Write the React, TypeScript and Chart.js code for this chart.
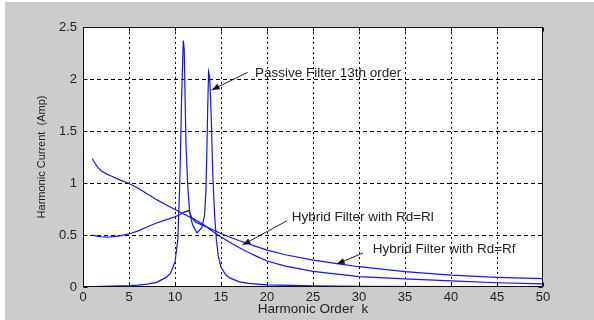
import React, { useEffect, useRef } from 'react';
import { Chart, registerables } from 'chart.js';

Chart.register(...registerables);

// Passive filter (13th order) harmonic current
const passiveK = [1, 2, 3, 4, 5, 6, 7, 8, 9, 9.5, 10, 10.3, 10.5, 10.6, 10.7, 10.8, 10.9, 11.0, 11.1, 11.2, 11.4, 11.6, 11.9, 12.4, 12.9, 13.2, 13.35, 13.45, 13.55, 13.65, 13.75, 13.85, 13.95, 14.1, 14.3, 14.5, 14.7, 15, 15.5, 16, 17, 18, 20, 25, 30, 40, 50];
const passiveI = [0.005, 0.006, 0.008, 0.01, 0.013, 0.018, 0.028, 0.045, 0.09, 0.13, 0.24, 0.45, 0.95, 1.3, 1.75, 2.07, 2.37, 2.29, 1.8, 1.35, 0.95, 0.72, 0.6, 0.52, 0.57, 0.68, 0.9, 1.25, 1.7, 2.07, 2.03, 1.85, 1.6, 1.1, 0.7, 0.45, 0.3, 0.19, 0.12, 0.085, 0.05, 0.035, 0.02, 0.01, 0.006, 0.004, 0.003];

// Hybrid filter with Rd = Rl
const rlK = [1, 1.3, 1.6, 2, 2.5, 3, 4, 5, 6, 7, 8, 9, 10, 11, 12, 13, 14, 15, 16, 17, 18, 19, 20, 22, 25, 30, 35, 40, 45, 50];
const rlI = [1.235, 1.19, 1.15, 1.115, 1.09, 1.07, 1.03, 0.995, 0.95, 0.895, 0.84, 0.79, 0.745, 0.7, 0.655, 0.605, 0.54, 0.48, 0.428, 0.378, 0.332, 0.29, 0.25, 0.2, 0.15, 0.1, 0.078, 0.058, 0.041, 0.03];

// Hybrid filter with Rd = Rf
const rfK = [1, 1.5, 2, 2.5, 3, 4, 5, 6, 7, 8, 9, 10, 10.5, 11, 11.5, 11.8, 12.2, 13, 14, 15, 16, 17, 18, 20, 22, 25, 28, 30, 35, 40, 45, 50];
const rfI = [0.5, 0.49, 0.483, 0.48, 0.482, 0.492, 0.51, 0.54, 0.58, 0.615, 0.645, 0.676, 0.695, 0.72, 0.735, 0.67, 0.625, 0.595, 0.555, 0.515, 0.478, 0.445, 0.415, 0.355, 0.31, 0.258, 0.22, 0.195, 0.148, 0.115, 0.093, 0.08];

const xTicks = [0, 5, 10, 15, 20, 25, 30, 35, 40, 45, 50];
const yTicks = [0, 0.5, 1, 1.5, 2, 2.5];
const yTickLabels = ['0', '0.5', '1', '1.5', '2', '2.5'];

const xTitle = 'Harmonic Order  k';
const yTitle = 'Harmonic Current  (Amp)';

// annotations: text, text anchor (data coords), arrow start, arrow tip (data coords)
const noteTexts = ['Passive Filter 13th order', 'Hybrid Filter with Rd=Rl', 'Hybrid Filter with Rd=Rf'];
const noteX = [18.7, 22.68, 31.49];
const noteY = [2.058, 0.668, 0.365];
const arrowFromX = [17.9, 22.13, 30.43];
const arrowFromY = [2.064, 0.635, 0.327];
const arrowToX = [13.98, 17.34, 27.58];
const arrowToY = [1.894, 0.404, 0.221];

const FONT = '"Liberation Sans", Arial, Helvetica, sans-serif';
const LINE = 'rgb(20,20,255)';

const toPts = (k: number[], v: number[]) => k.map((x, i) => ({ x, y: v[i] }));

const decor = {
  id: 'decor',
  beforeDraw(chart: any) {
    const { ctx, width, height, chartArea: a } = chart;
    ctx.save();
    ctx.fillStyle = '#ffffff';
    ctx.fillRect(0, 0, width, height);
    ctx.fillStyle = '#cccccc';
    ctx.fillRect(5, 2, width - 5, height - 2);
    ctx.fillStyle = '#ffffff';
    ctx.fillRect(a.left, a.top, a.right - a.left, a.bottom - a.top);
    ctx.restore();
  },
  beforeDatasetsDraw(chart: any) {
    const { ctx, chartArea: a, scales } = chart;
    const xs = scales.x, ys = scales.y;
    ctx.save();
    ctx.strokeStyle = '#000';
    ctx.lineWidth = 1;
    ctx.setLineDash([2, 3]);
    xTicks.forEach((v) => {
      if (v === xTicks[0] || v === xTicks[xTicks.length - 1]) return;
      const px = Math.round(xs.getPixelForValue(v)) + 0.5;
      ctx.beginPath();
      ctx.moveTo(px, a.top);
      ctx.lineTo(px, a.bottom);
      ctx.stroke();
    });
    ctx.setLineDash([4, 3]);
    yTicks.forEach((v) => {
      if (v === yTicks[0] || v === yTicks[yTicks.length - 1]) return;
      const py = Math.round(ys.getPixelForValue(v)) + 0.5;
      ctx.beginPath();
      ctx.moveTo(a.left, py);
      ctx.lineTo(a.right, py);
      ctx.stroke();
    });
    ctx.restore();
  },
  afterDatasetsDraw(chart: any) {
    const { ctx, chartArea: a, scales } = chart;
    const xs = scales.x, ys = scales.y;
    ctx.save();
    ctx.strokeStyle = '#111';
    ctx.lineWidth = 1;
    ctx.setLineDash([]);
    const L = Math.round(a.left) + 0.5, R = Math.round(a.right) - 0.5;
    const T = Math.round(a.top) + 0.5, B = Math.round(a.bottom) - 0.5;
    ctx.strokeRect(L, T, R - L, B - T);
    const tl = 4;
    ctx.beginPath();
    xTicks.forEach((v) => {
      const px = Math.round(xs.getPixelForValue(v)) + 0.5;
      ctx.moveTo(px, B); ctx.lineTo(px, B - tl);
      ctx.moveTo(px, T); ctx.lineTo(px, T + tl);
    });
    yTicks.forEach((v) => {
      const py = Math.round(ys.getPixelForValue(v)) + 0.5;
      ctx.moveTo(L, py); ctx.lineTo(L + tl, py);
      ctx.moveTo(R, py); ctx.lineTo(R - tl, py);
    });
    ctx.stroke();

    // annotations
    ctx.font = `13.5px ${FONT}`;
    ctx.fillStyle = '#222';
    ctx.textBaseline = 'middle';
    ctx.textAlign = 'left';
    noteTexts.forEach((t, i) => {
      ctx.fillStyle = '#222';
      ctx.fillText(t, xs.getPixelForValue(noteX[i]), ys.getPixelForValue(noteY[i]));
      const x0 = xs.getPixelForValue(arrowFromX[i]);
      const y0 = ys.getPixelForValue(arrowFromY[i]);
      const x1 = xs.getPixelForValue(arrowToX[i]);
      const y1 = ys.getPixelForValue(arrowToY[i]);
      ctx.strokeStyle = '#222';
      ctx.beginPath();
      ctx.moveTo(x0, y0);
      ctx.lineTo(x1, y1);
      ctx.stroke();
      const ang = Math.atan2(y1 - y0, x1 - x0);
      const hl = 8, hw = 3;
      const bx = x1 - hl * Math.cos(ang), by = y1 - hl * Math.sin(ang);
      ctx.beginPath();
      ctx.moveTo(x1, y1);
      ctx.lineTo(bx + hw * Math.sin(ang), by - hw * Math.cos(ang));
      ctx.lineTo(bx - hw * Math.sin(ang), by + hw * Math.cos(ang));
      ctx.closePath();
      ctx.fillStyle = '#111';
      ctx.fill();
    });
    ctx.restore();
  },
};

export default function App() {
  const ref = useRef<HTMLCanvasElement | null>(null);
  useEffect(() => {
    if (!ref.current) return;
    const ds = (k: number[], v: number[]) => ({
      data: toPts(k, v),
      borderColor: LINE,
      borderWidth: 1.2,
      pointRadius: 0,
      tension: 0,
      fill: false,
    });
    const chart = new Chart(ref.current, {
      type: 'line',
      data: {
        datasets: [ds(passiveK, passiveI), ds(rlK, rlI), ds(rfK, rfI)],
      },
      options: {
        animation: false,
        responsive: false,
        devicePixelRatio: 1,
        layout: { padding: { left: 0, top: 27, right: 51, bottom: 0 } },
        plugins: { legend: { display: false }, tooltip: { enabled: false } },
        scales: {
          x: {
            type: 'linear',
            min: 0,
            max: 50,
            afterBuildTicks: (s: any) => {
              s.ticks = xTicks.map((value) => ({ value }));
            },
            afterFit: (s: any) => {
              s.height = 33;
            },
            grid: { display: false, drawTicks: false },
            border: { display: false },
            ticks: {
              color: '#222',
              padding: 3,
              maxRotation: 0,
              autoSkip: false,
              font: { family: FONT, size: 13 },
              callback: (v: any) => String(v),
            },
            title: {
              display: true,
              text: xTitle,
              color: '#222',
              font: { family: FONT, size: 13.5 },
              padding: { top: 0, bottom: 3 },
            },
          },
          y: {
            type: 'linear',
            min: 0,
            max: 2.5,
            afterBuildTicks: (s: any) => {
              s.ticks = yTicks.map((value) => ({ value }));
            },
            afterFit: (s: any) => {
              s.width = 83;
            },
            grid: { display: false, drawTicks: false },
            border: { display: false },
            ticks: {
              color: '#222',
              padding: 6,
              autoSkip: false,
              font: { family: FONT, size: 13 },
              callback: (v: any) => {
                const i = yTicks.indexOf(Number(v));
                return i >= 0 ? yTickLabels[i] : '';
              },
            },
            title: {
              display: true,
              text: yTitle,
              color: '#222',
              font: { family: '"Liberation Sans Narrow", "Arial Narrow", ' + FONT, size: 11 },
              padding: { top: 35, bottom: 0 },
            },
          },
        },
      },
      plugins: [decor],
    } as any);
    return () => chart.destroy();
  }, []);
  return (
    <div style={{ position: 'fixed', left: 0, top: 0, width: 594, height: 320 }}>
      <canvas ref={ref} width={594} height={320} style={{ width: 594, height: 320, display: 'block' }} />
    </div>
  );
}
